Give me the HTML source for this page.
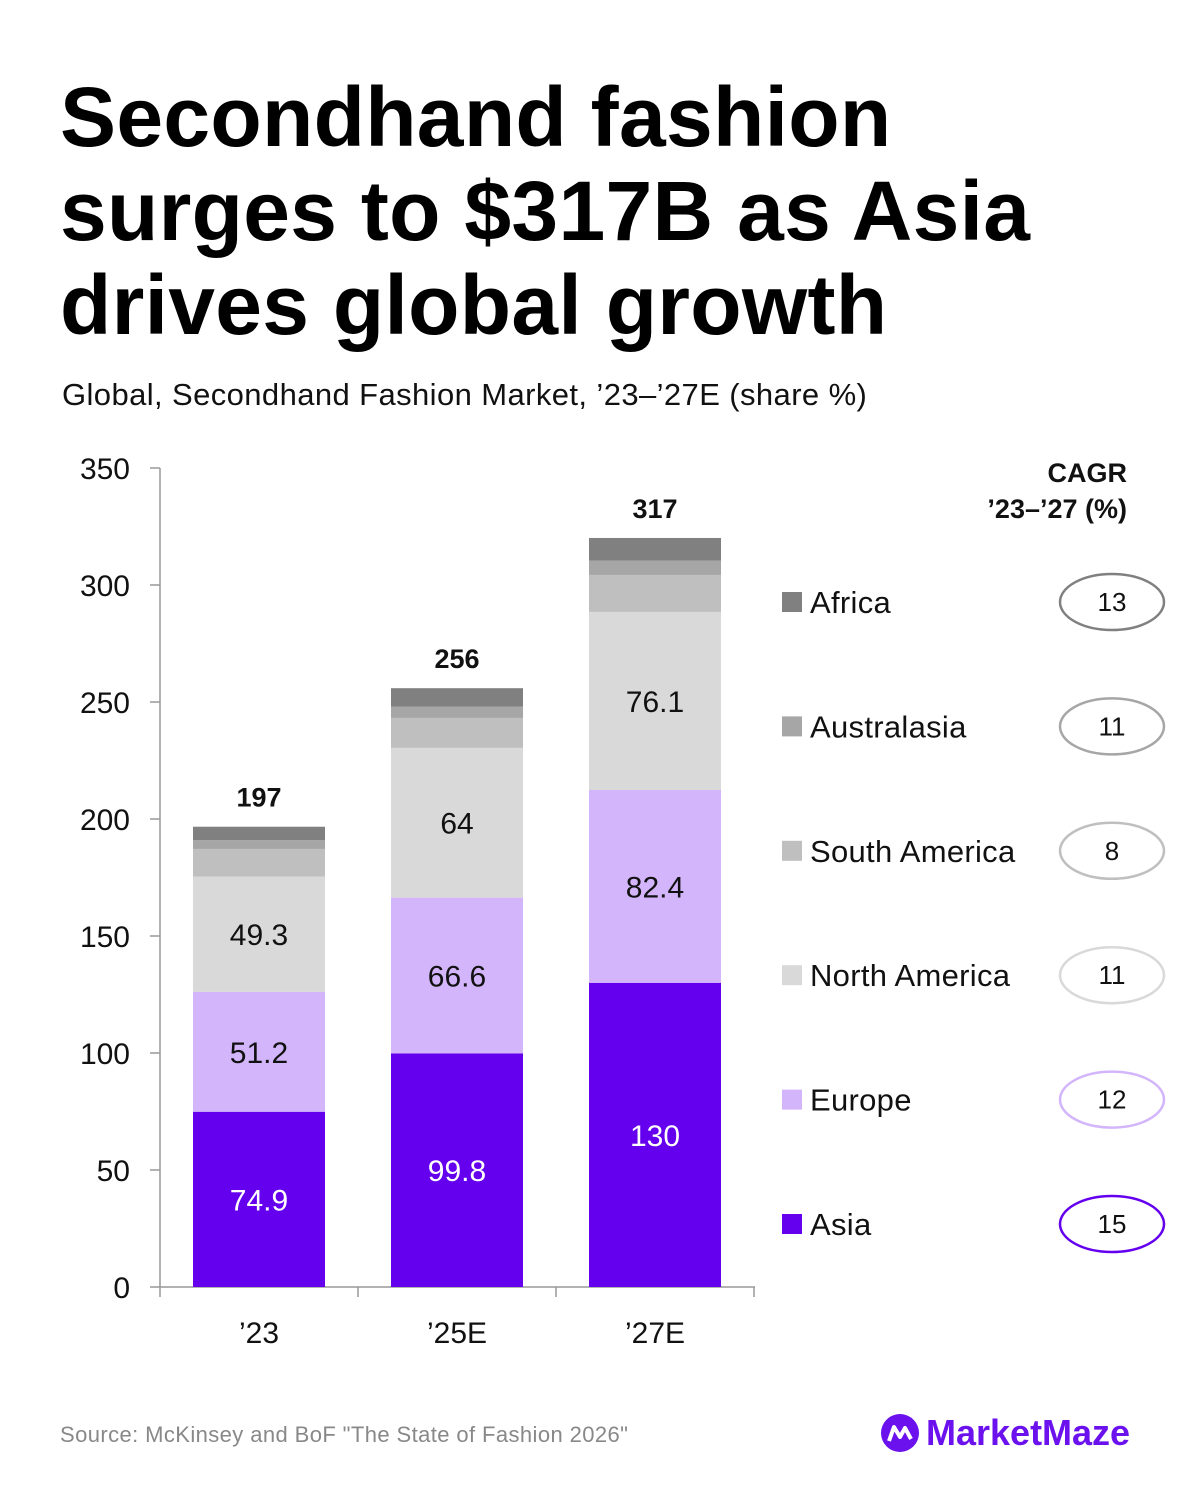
<!DOCTYPE html>
<html><head><meta charset="utf-8"><style>
body{margin:0;background:#fff;font-family:"Liberation Sans",sans-serif}
#wrap{position:relative;width:1200px;height:1500px;overflow:hidden}
h1{position:absolute;left:60px;top:70px;margin:0;font-size:84px;line-height:94px;font-weight:bold;letter-spacing:0.3px;color:#000}
.sub{position:absolute;left:62px;top:377px;font-size:31px;color:#111;letter-spacing:0.4px}
.src{position:absolute;left:60px;top:1422px;font-size:22px;color:#888;letter-spacing:0.4px}
.brand{position:absolute;left:880px;top:1412px;display:flex;align-items:center;font-size:36px;font-weight:bold;color:#6a11ee;letter-spacing:0px}
</style></head><body><div id="wrap">
<h1>Secondhand fashion<br>surges to $317B as Asia<br>drives global growth</h1>
<div class="sub">Global, Secondhand Fashion Market, ’23–’27E (share %)</div>
<svg id="chart" width="1200" height="1500" style="position:absolute;left:0;top:0"></svg>
<div class="src">Source: McKinsey and BoF "The State of Fashion 2026"</div>
<div class="brand"><svg width="40" height="40" viewBox="0 0 40 40" style="margin-right:6px"><circle cx="20" cy="20" r="19" fill="#6a11ee"/><path d="M9 28 L14 14 L20 24 L25 15 L31 26" stroke="#fff" stroke-width="4" fill="none" stroke-linejoin="round"/></svg>MarketMaze</div>
<script>
const categories=["’23","’25E","’27E"];
const seriesNames=["Asia","Europe","North America","South America","Australasia","Africa"];
const asia=[74.9,99.8,130];
const europe=[51.2,66.6,82.4];
const northAmerica=[49.3,64,76.1];
const southAmerica=[11.8,12.8,15.8];
const australasia=[3.8,4.8,6.1];
const africa=[5.7,7.9,9.7];
const totals=[197,256,317];
const cagr=[15,12,11,8,11,13];
const yTicks=[0,50,100,150,200,250,300,350];
const colors=["#6400ee","#d3b5fb","#d9d9d9","#bfbfbf","#a6a6a6","#808080"];
const series=[asia,europe,northAmerica,southAmerica,australasia,africa];
const NS="http://www.w3.org/2000/svg";
const svg=document.getElementById('chart');
const y=v=>1287-v*819/350;
const xBand=i=>193+i*198;
const bw=132;
function mk(t,a,txt){const e=document.createElementNS(NS,t);for(const k in a)e.setAttribute(k,a[k]);if(txt!==undefined)e.textContent=txt;svg.appendChild(e);return e;}
let ax=mk('line',{x1:160,y1:y(350),x2:160,y2:1287,stroke:'#999','stroke-width':1.5});


let bx=mk('line',{x1:160,y1:1287,x2:755,y2:1287,stroke:'#999','stroke-width':1.5});


yTicks.forEach(t=>{
 mk('line',{x1:150,x2:160,y1:y(t),y2:y(t),stroke:'#999','stroke-width':1.5});
 let l=mk('text',{x:130,y:y(t)+11,'text-anchor':'end','font-size':30,fill:'#111'},t);
 
 
});
[0,1,2,3].forEach(i=>mk('line',{x1:160+i*198,x2:160+i*198,y1:1287,y2:1297,stroke:'#999','stroke-width':1.5}));
categories.forEach((c,i)=>{
 let l=mk('text',{x:xBand(i)+bw/2,y:1343,'text-anchor':'middle','font-size':30,fill:'#111'},c);
 
 
 let base=0;
 series.forEach((s,k)=>{
  const v=s[i];
  let r=mk('rect',{x:xBand(i),y:y(base+v),width:bw,height:y(base)-y(base+v),fill:colors[k]});
  
  
  if(k<3){
   let t=mk('text',{x:xBand(i)+bw/2,y:(y(base)+y(base+v))/2+11,'text-anchor':'middle','font-size':30,fill:k==0?'#fff':'#111'},v);
   
   
  }
  base+=v;
 });
 let tt=mk('text',{x:xBand(i)+bw/2,y:y(base)-20,'text-anchor':'middle','font-size':27,'font-weight':'bold',fill:'#111'},totals[i]);
 
 
});
let h1=mk('text',{x:1127,y:482,'text-anchor':'end','font-size':27,'font-weight':'bold',fill:'#111'},'CAGR');


let h2=mk('text',{x:1127,y:518,'text-anchor':'end','font-size':27,'font-weight':'bold',fill:'#111'},'’23–’27 (%)');


seriesNames.forEach((n,k)=>{
 const cy=1224-k*124.4;
 let s=mk('rect',{x:782,y:cy-10,width:20,height:20,fill:colors[k]});
 
 
 let t=mk('text',{x:810,y:cy+11,'font-size':31,fill:'#111','letter-spacing':0.3},n);
 
 
 let e=mk('ellipse',{cx:1112,cy:cy,rx:52,ry:28,fill:'none',stroke:colors[k],'stroke-width':2.5});
 
 
 let c=mk('text',{x:1112,y:cy+9,'text-anchor':'middle','font-size':26,fill:'#111'},cagr[k]);
 
 
});
</script></div></body></html>
